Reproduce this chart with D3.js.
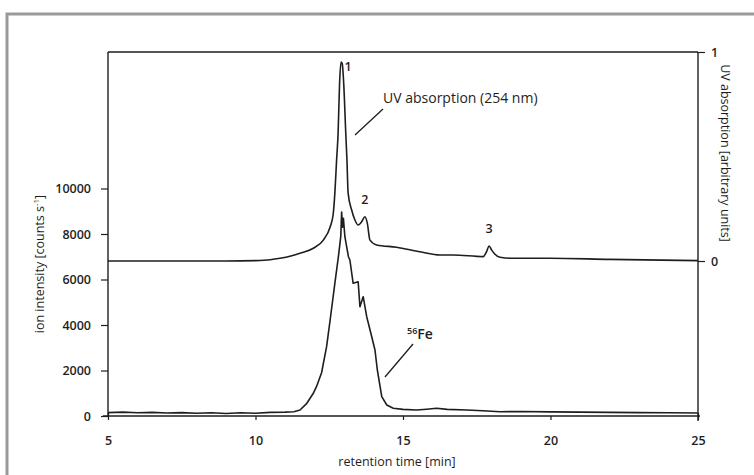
<!DOCTYPE html>
<html>
<head>
<meta charset="utf-8">
<script src="https://cdn.jsdelivr.net/npm/d3@7"></script>
<style>
  html, body { margin: 0; padding: 0; background: #fff; }
  svg { display: block; }
  text { font-family: "Open Sans", "Lato", sans-serif; fill: #1e1e1e; }
</style>
</head>
<body>
<svg id="chart" width="754" height="475"></svg>
<script>
// ---- data ----
const xTicks = [5, 10, 15, 20, 25];
const leftTicks = [0, 2000, 4000, 6000, 8000, 10000];
const rightTicks = [0, 1];

// UV absorption (254 nm), arbitrary units
const uvTime  = [5, 7, 9, 10, 10.5, 10.83, 11.2, 11.51, 11.96, 12.3, 12.53, 12.63, 12.69, 12.75, 12.8, 12.85, 12.9, 12.94, 12.99, 13.06, 13.1, 13.14, 13.26, 13.37, 13.48, 13.6, 13.71, 13.79, 13.88, 14.11, 14.78, 15.58, 16.25, 16.7, 17.72, 17.83, 17.92, 18.0, 18.29, 18.74, 19.98, 22, 25];
const uvValue = [0, 0, 0, 0.002, 0.006, 0.013, 0.024, 0.037, 0.061, 0.1, 0.163, 0.22, 0.325, 0.485, 0.611, 0.85, 0.952, 0.945, 0.85, 0.611, 0.483, 0.325, 0.244, 0.196, 0.172, 0.188, 0.212, 0.181, 0.1, 0.077, 0.066, 0.044, 0.029, 0.029, 0.021, 0.044, 0.072, 0.053, 0.018, 0.013, 0.013, 0.008, 0.002];

// 56Fe ion intensity, counts/s
const feTime  = [5, 5.5, 6, 6.5, 7, 7.5, 8, 8.5, 9, 9.5, 10, 10.5, 11, 11.3, 11.51, 11.74, 11.96, 12.07, 12.24, 12.41, 12.53, 12.69, 12.81, 12.89, 12.92, 12.95, 12.98, 13.03, 13.15, 13.2, 13.31, 13.48, 13.54, 13.65, 13.77, 13.94, 14.05, 14.13, 14.28, 14.45, 14.67, 15.0, 15.46, 15.8, 16.14, 16.5, 17.16, 17.7, 18.29, 19, 20, 21, 22, 23, 24, 25];
const feValue = [150, 170, 140, 160, 130, 150, 120, 145, 110, 140, 120, 160, 170, 190, 264, 558, 998, 1300, 1900, 3046, 4220, 5833, 7002, 7881, 8967, 8300, 8690, 7881, 7002, 6857, 5833, 5903, 4804, 5244, 4365, 3486, 2901, 2022, 848, 484, 338, 290, 264, 300, 338, 290, 264, 230, 189, 200, 180, 170, 160, 150, 140, 130];

// ---- layout ----
const svg = d3.select("#chart");
const mLeft = 108, mRight = 698, mTop = 52, mBottom = 416;

const x  = d3.scaleLinear().domain([5, 25]).range([mLeft, mRight]);
const yL = d3.scaleLinear().domain([0, 16000]).range([mBottom, mTop]);
const yR = d3.scaleLinear().domain([0, 1]).range([261, mTop]);

// outer grey frame
svg.append("rect").attr("x", 7).attr("y", 14).attr("width", 800).attr("height", 500)
  .attr("fill", "#fff").attr("stroke", "#9a9a9a").attr("stroke-width", 3);

const ink = "#1e1e1e";

// top border line
svg.append("line").attr("x1", mLeft).attr("x2", mRight).attr("y1", mTop).attr("y2", mTop)
  .attr("stroke", ink).attr("stroke-width", 1.4);

// left axis
const gL = svg.append("g").attr("transform", `translate(${mLeft},0)`)
  .call(d3.axisLeft(yL).tickValues(leftTicks).tickSize(7).tickPadding(10).tickFormat(d3.format("d")));
gL.select(".domain").remove();
gL.append("line").attr("x1", 0).attr("x2", 0).attr("y1", mTop).attr("y2", mBottom + 1).attr("stroke", ink).attr("stroke-width", 1.4);

// right axis
const gR = svg.append("g").attr("transform", `translate(${mRight},0)`)
  .call(d3.axisRight(yR).tickValues(rightTicks).tickSize(7).tickPadding(6).tickFormat(d3.format("d")));
gR.select(".domain").remove();
gR.append("line").attr("x1", 0).attr("x2", 0).attr("y1", mTop).attr("y2", mBottom + 5).attr("stroke", ink).attr("stroke-width", 1.4);

// bottom axis
const gB = svg.append("g").attr("transform", `translate(0,${mBottom})`)
  .call(d3.axisBottom(x).tickValues(xTicks).tickSize(4).tickPadding(16).tickFormat(d3.format("d")));
gB.select(".domain").remove();
gB.append("line").attr("x1", mLeft - 5).attr("x2", mRight + 2).attr("y1", 0).attr("y2", 0).attr("stroke", ink).attr("stroke-width", 1.4);

[gL, gR, gB].forEach(g => {
  g.selectAll(".tick line").attr("stroke", ink).attr("stroke-width", 1.2);
  g.selectAll(".tick text").attr("font-size", 12.5).attr("font-weight", 600).attr("fill", ink)
    .style("font-family", '"Open Sans", "Lato", sans-serif');
});
gB.selectAll(".tick").filter(d => d === 5 || d === 25).select("line").attr("y1", -3).attr("y2", 4);

// curves
const uvData = uvTime.map((t, i) => [t, uvValue[i]]);
const feData = feTime.map((t, i) => [t, feValue[i]]);

svg.append("path").datum(uvData)
  .attr("fill", "none").attr("stroke", ink).attr("stroke-width", 1.6).attr("stroke-linejoin", "round")
  .attr("d", d3.line().x(d => x(d[0])).y(d => yR(d[1])).curve(d3.curveMonotoneX));

svg.append("path").datum(feData)
  .attr("fill", "none").attr("stroke", ink).attr("stroke-width", 1.6).attr("stroke-linejoin", "round")
  .attr("d", d3.line().x(d => x(d[0])).y(d => yL(d[1])));

// peak labels
const peakLabels = [["1", 12.90, 0.952], ["2", 13.71, 0.212], ["3", 17.92, 0.072]];
svg.selectAll(".peak").data(peakLabels).enter().append("text")
  .attr("class", "peak")
  .attr("x", d => x(d[1]) + (d[0] === "1" ? 7 : 0))
  .attr("y", d => yR(d[2]) - (d[0] === "1" ? -9 : 13))
  .attr("text-anchor", "middle").attr("font-size", 12.5).attr("font-weight", 600)
  .text(d => d[0]);

// UV annotation
svg.append("text").attr("x", 383).attr("y", 103).attr("font-size", 14).attr("font-weight", 500)
  .text("UV absorption (254 nm)");
svg.append("line").attr("x1", 383).attr("y1", 109).attr("x2", 355).attr("y2", 135)
  .attr("stroke", ink).attr("stroke-width", 1.3);

// Fe annotation
const feLab = svg.append("text").attr("x", 407).attr("y", 339).attr("font-size", 14).attr("font-weight", 600);
feLab.append("tspan").attr("font-size", 9).attr("dy", -5).text("56");
feLab.append("tspan").attr("dy", 5).text("Fe");
svg.append("line").attr("x1", 413).attr("y1", 344).attr("x2", 385).attr("y2", 377)
  .attr("stroke", ink).attr("stroke-width", 1.3);

// axis titles
const yTitle = svg.append("text").attr("transform", "translate(44,264) rotate(-90)")
  .attr("text-anchor", "middle").attr("font-size", 12.5).attr("font-weight", 500);
yTitle.append("tspan").text("ion intensity [counts s");
yTitle.append("tspan").attr("font-size", 8).attr("dy", -5).text("-1");
yTitle.append("tspan").attr("dy", 5).text("]");

svg.append("text").attr("x", 397).attr("y", 466).attr("text-anchor", "middle").attr("font-size", 12.5).attr("font-weight", 500)
  .text("retention time [min]");

svg.append("text").attr("transform", "translate(721,153) rotate(90)")
  .attr("text-anchor", "middle").attr("font-size", 12.5).attr("font-weight", 500)
  .text("UV absorption [arbitrary units]");
</script>
</body>
</html>
